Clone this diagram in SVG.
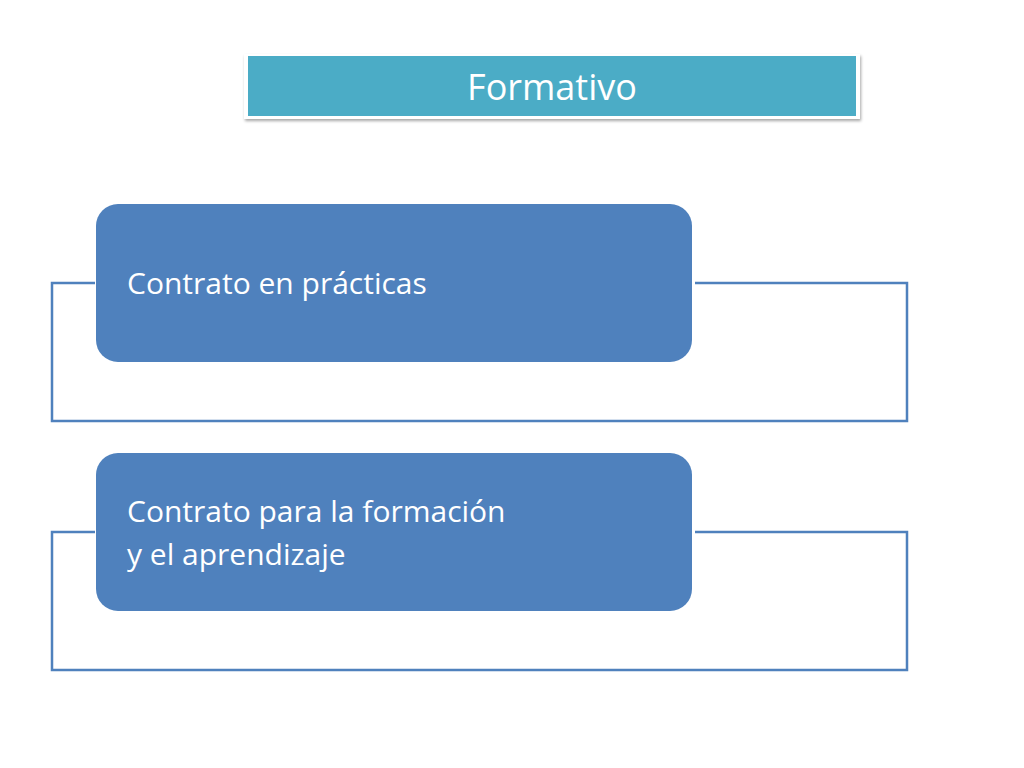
<svg xmlns="http://www.w3.org/2000/svg" width="1024" height="768" viewBox="0 0 1024 768">
<defs><filter id="sh" x="-5%" y="-20%" width="110%" height="150%"><feDropShadow dx="1" dy="2" stdDeviation="1.5" flood-color="#000" flood-opacity="0.35"/></filter></defs>
<style>.fr{fill:none;stroke:#4f81bd;stroke-width:2.5}.bx{fill:#4f81bd}.t{font-family:"Open Sans","Liberation Sans",sans-serif;fill:#fff}</style>
<rect width="1024" height="768" fill="#fff"/>
<g id="connectors">
<path class="fr" d="M95 283H52V421H907V283H695"/>
<path class="fr" d="M95 532H52V670H907V532H695"/>
</g>
<g id="title">
<rect x="244" y="54" width="616" height="65" fill="#fff" filter="url(#sh)"/>
<rect x="248" y="56" width="608" height="60" fill="#4bacc6"/>
<text class="t" x="552" y="100" font-size="36" text-anchor="middle">Formativo</text>
</g>
<g id="n1">
<rect class="bx" x="96" y="204" width="596" height="158" rx="22"/>
<text class="t" x="127" y="294" font-size="30">Contrato en prácticas</text>
</g>
<g id="n2">
<rect class="bx" x="96" y="453" width="596" height="158" rx="22"/>
<text class="t" x="127" y="522" font-size="30">Contrato para la formación</text>
<text class="t" x="127" y="565" font-size="30">y el aprendizaje</text>
</g>
</svg>
